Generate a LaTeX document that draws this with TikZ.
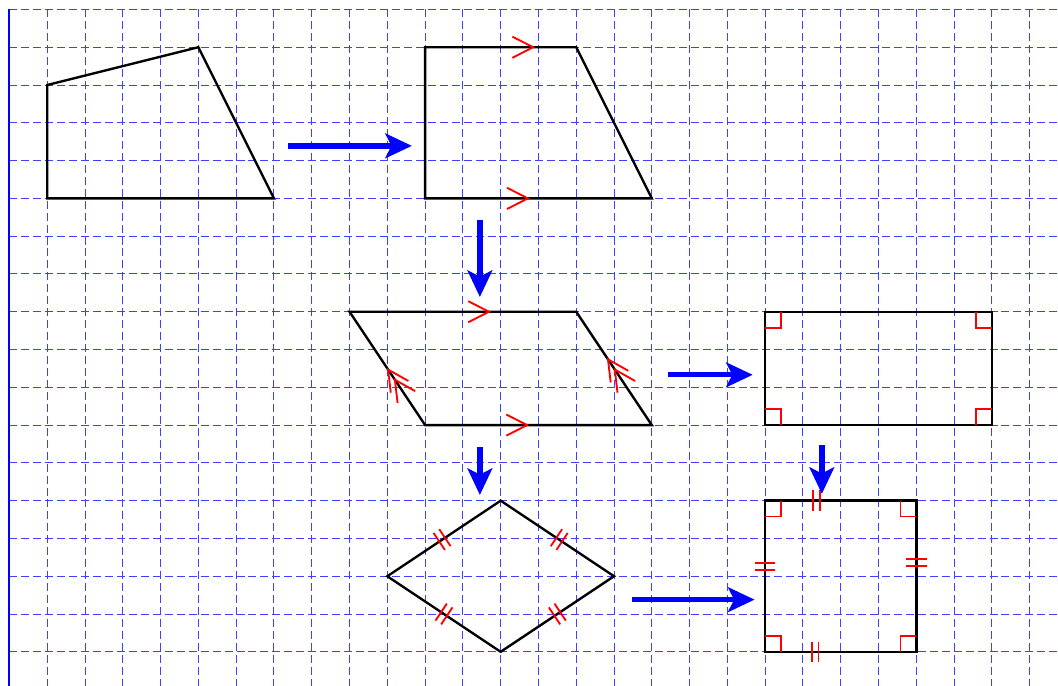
\documentclass[tikz,border=0pt]{standalone}
\usetikzlibrary{arrows.meta,calc}
\newcommand\chevmark[2]{\draw[mk,shift={#1},rotate=#2] (-0.55,0.28) -- (0,0) -- (-0.55,-0.28);}
\newcommand\tickpair[2]{\draw[mk,shift={#1},rotate=#2] (-0.09,-0.27) -- (-0.09,0.27) (0.09,-0.27) -- (0.09,0.27);}
\begin{document}
\begin{tikzpicture}[x=1cm,y=1cm,
  gridline/.style={blue!75, line width=0.7pt, dash pattern=on 6pt off 3pt},
  poly/.style={black, line width=1.8pt, line join=miter},
  mk/.style={red, line width=1.4pt},
  bigarrow/.style={blue, line width=4pt, -{Stealth[length=7mm,width=6.5mm,inset=1.6mm]}}]
\useasboundingbox (-0.25,-0.9) rectangle (27.75,17.25);
\clip (-0.25,-0.9) rectangle (27.75,17.25);
% grid
\foreach \x in {1,...,27} \draw[gridline] (\x,17) -- (\x,-1);
\foreach \y in {0,...,17} \draw[gridline] (0,\y) -- (28,\y);
\draw[blue, line width=1.5pt] (0,17) -- (0,-1);
% shapes
\draw[poly] (1,12) -- (1,15) -- (5,16) -- (7,12) -- cycle;
\draw[poly] (11,12) -- (11,16) -- (15,16) -- (17,12) -- cycle;
\draw[poly] (9,9) -- (15,9) -- (17,6) -- (11,6) -- cycle;
\draw[poly] (20,6) rectangle (26,9);
\draw[poly] (13,4) -- (16,2) -- (13,0) -- (10,2) -- cycle;
\draw[poly] (20,0) rectangle (24,4);
% parallel marks
\chevmark{(13.86,16)}{0}
\chevmark{(13.72,12)}{0}
\chevmark{(12.69,9)}{0}
\chevmark{(13.70,6)}{0}
\chevmark{(10.02,7.47)}{123.69}
\chevmark{(10.20,7.20)}{123.69}
\chevmark{(15.84,7.74)}{123.69}
\chevmark{(16.02,7.47)}{123.69}
% right angles rectangle
\draw[mk] (20,8.58) -- (20.42,8.58) -- (20.42,9);
\draw[mk] (26,8.58) -- (25.58,8.58) -- (25.58,9);
\draw[mk] (20,6.42) -- (20.42,6.42) -- (20.42,6);
\draw[mk] (26,6.42) -- (25.58,6.42) -- (25.58,6);
% right angles square
\draw[mk] (20,3.58) -- (20.42,3.58) -- (20.42,4);
\draw[mk] (24,3.58) -- (23.58,3.58) -- (23.58,4);
\draw[mk] (20,0.42) -- (20.42,0.42) -- (20.42,0);
\draw[mk] (24,0.42) -- (23.58,0.42) -- (23.58,0);
% equal-length ticks
\tickpair{(11.45,2.97)}{33.69}
\tickpair{(14.55,2.97)}{-33.69}
\tickpair{(11.5,1)}{-33.69}
\tickpair{(14.5,1)}{33.69}
\tickpair{(21.35,4)}{0}
\tickpair{(21.32,0)}{0}
\tickpair{(20,2.26)}{90}
\tickpair{(24,2.36)}{90}
% arrows
\coordinate (a1s) at (7.37,13.39); \coordinate (a1e) at (10.65,13.39);
\coordinate (a2s) at (12.45,11.43); \coordinate (a2e) at (12.45,9.39);
\coordinate (a3s) at (17.42,7.33); \coordinate (a3e) at (19.67,7.33);
\coordinate (a4s) at (21.5,5.48); \coordinate (a4e) at (21.5,4.18);
\coordinate (a5s) at (12.45,5.42); \coordinate (a5e) at (12.45,4.15);
\coordinate (a6s) at (16.47,1.38); \coordinate (a6e) at (19.72,1.38);
\draw[bigarrow] (a1s) -- (a1e);
\draw[bigarrow] (a2s) -- (a2e);
\draw[bigarrow] (a3s) -- (a3e);
\draw[bigarrow] (a4s) -- (a4e);
\draw[bigarrow] (a5s) -- (a5e);
\draw[bigarrow] (a6s) -- (a6e);
\end{tikzpicture}
\end{document}
